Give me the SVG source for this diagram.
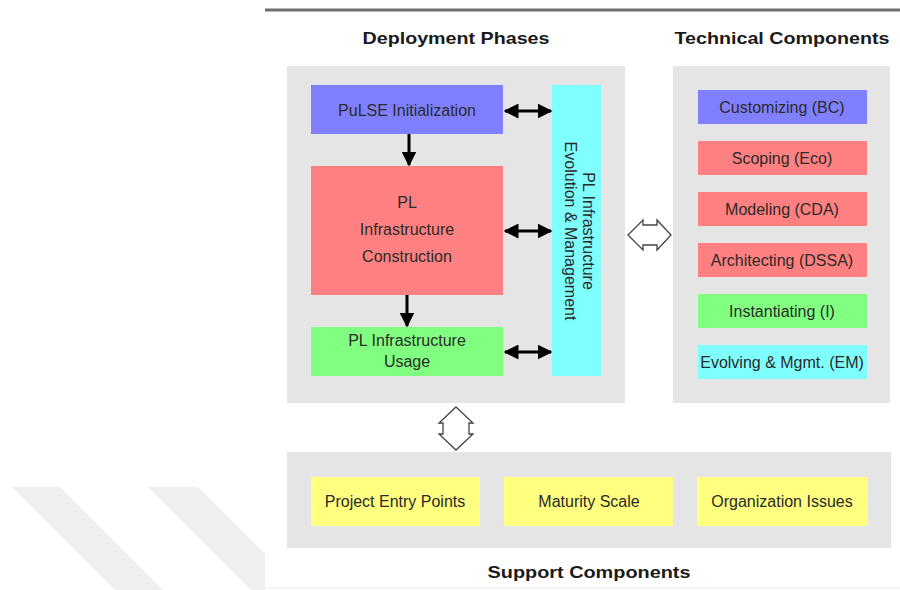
<svg xmlns="http://www.w3.org/2000/svg" width="900" height="590" viewBox="0 0 900 590">
  <defs>
    <style>
      .title { font-family: "Liberation Sans", Arial, sans-serif; font-size: 17px; font-weight: bold; fill: #1a1a1a; text-anchor: middle; }
      .lbl { font-family: "Liberation Sans", Arial, sans-serif; font-size: 16px; fill: #2a2a2a; text-anchor: middle; }
      .panel { fill: #e5e5e5; }
      .blue { fill: #8080ff; }
      .red { fill: #ff8080; }
      .green { fill: #80ff80; }
      .cyan { fill: #80ffff; }
      .yellow { fill: #ffff80; }
      .link { stroke: #000; stroke-width: 3; fill: none; }
      .hollow { fill: #fff; stroke: #444; stroke-width: 1.3; stroke-linejoin: miter; }
    </style>
    <marker id="head" viewBox="0 0 10 10" refX="9" refY="5" markerWidth="5" markerHeight="5" orient="auto-start-reverse" markerUnits="strokeWidth">
      <path d="M0,0 L10,5 L0,10 Z" fill="#000"/>
    </marker>
    <clipPath id="leftMargin">
      <rect x="0" y="0" width="265" height="590"/>
    </clipPath>
  </defs>

  <rect x="0" y="0" width="900" height="590" fill="#fff"/>

  <!-- faint diagonal bands in the left margin -->
  <g clip-path="url(#leftMargin)" fill="#efefef">
    <polygon points="12,487 60,487 163,590 115,590"/>
    <polygon points="148,487 198,487 301,590 251,590"/>
  </g>

  <!-- page rules -->
  <line x1="265" y1="10" x2="900" y2="10" stroke="#707070" stroke-width="3"/>
  <line x1="265" y1="588" x2="900" y2="588" stroke="#ececec" stroke-width="1"/>

  <!-- section titles -->
  <text class="title" x="456" y="44" textLength="187" lengthAdjust="spacingAndGlyphs">Deployment Phases</text>
  <text class="title" x="782" y="44" textLength="215" lengthAdjust="spacingAndGlyphs">Technical Components</text>
  <text class="title" x="589" y="578" textLength="203" lengthAdjust="spacingAndGlyphs">Support Components</text>

  <!-- panels -->
  <g id="deployment-phases">
    <rect class="panel" x="287" y="66" width="338" height="337"/>
  </g>
  <g id="technical-components">
    <rect class="panel" x="673" y="66" width="217" height="337"/>
  </g>
  <g id="support-components">
    <rect class="panel" x="287" y="452" width="604" height="96"/>
  </g>

  <!-- deployment phase nodes -->
  <g id="pulse-initialization">
    <rect class="blue" x="311" y="85" width="192" height="49"/>
    <text class="lbl" x="407" y="116">PuLSE Initialization</text>
  </g>
  <g id="pl-infrastructure-construction">
    <rect class="red" x="311" y="166" width="192" height="129"/>
    <text class="lbl" x="407" y="208">PL</text>
    <text class="lbl" x="407" y="235">Infrastructure</text>
    <text class="lbl" x="407" y="262">Construction</text>
  </g>
  <g id="pl-infrastructure-usage">
    <rect class="green" x="311" y="327" width="192" height="49"/>
    <text class="lbl" x="407" y="346">PL Infrastructure</text>
    <text class="lbl" x="407" y="367">Usage</text>
  </g>
  <g id="pl-infrastructure-evolution">
    <rect class="cyan" x="552" y="85" width="49" height="291"/>
    <g transform="translate(588,231) rotate(90)">
      <text class="lbl" x="0" y="5.5">PL Infrastructure</text>
    </g>
    <g transform="translate(570,231) rotate(90)">
      <text class="lbl" x="0" y="5.5">Evolution &amp; Management</text>
    </g>
  </g>

  <!-- technical component nodes -->
  <g id="customizing">
    <rect class="blue" x="698" y="90" width="169" height="34"/>
    <text class="lbl" x="782" y="113">Customizing (BC)</text>
  </g>
  <g id="scoping">
    <rect class="red" x="698" y="141" width="169" height="34"/>
    <text class="lbl" x="782" y="164">Scoping (Eco)</text>
  </g>
  <g id="modeling">
    <rect class="red" x="698" y="192" width="169" height="34"/>
    <text class="lbl" x="782" y="215">Modeling (CDA)</text>
  </g>
  <g id="architecting">
    <rect class="red" x="698" y="243" width="169" height="34"/>
    <text class="lbl" x="782" y="266">Architecting (DSSA)</text>
  </g>
  <g id="instantiating">
    <rect class="green" x="698" y="294" width="169" height="34"/>
    <text class="lbl" x="782" y="317">Instantiating (I)</text>
  </g>
  <g id="evolving">
    <rect class="cyan" x="698" y="345" width="169" height="34"/>
    <text class="lbl" x="782" y="368">Evolving &amp; Mgmt. (EM)</text>
  </g>

  <!-- support component nodes -->
  <g id="project-entry-points">
    <rect class="yellow" x="311" y="477" width="169" height="49"/>
    <text class="lbl" x="395" y="507">Project Entry Points</text>
  </g>
  <g id="maturity-scale">
    <rect class="yellow" x="504" y="477" width="169" height="49"/>
    <text class="lbl" x="589" y="507">Maturity Scale</text>
  </g>
  <g id="organization-issues">
    <rect class="yellow" x="697" y="477" width="171" height="49"/>
    <text class="lbl" x="782" y="507">Organization Issues</text>
  </g>

  <!-- connectors -->
  <g id="connectors">
    <line class="link" x1="409" y1="134" x2="409" y2="165" marker-end="url(#head)"/>
    <line class="link" x1="407" y1="295" x2="407" y2="326" marker-end="url(#head)"/>
    <line class="link" x1="505" y1="111" x2="551" y2="111" marker-start="url(#head)" marker-end="url(#head)"/>
    <line class="link" x1="505" y1="231" x2="551" y2="231" marker-start="url(#head)" marker-end="url(#head)"/>
    <line class="link" x1="505" y1="352" x2="551" y2="352" marker-start="url(#head)" marker-end="url(#head)"/>
    <polygon class="hollow" points="628,235 643,220 643,225 657,225 657,220 671,235 657,250 657,245 643,245 643,250"/>
    <polygon class="hollow" points="456,407 473,423 469,423 469,434 473,434 456,450 439,434 443,434 443,423 439,423"/>
  </g>
</svg>
